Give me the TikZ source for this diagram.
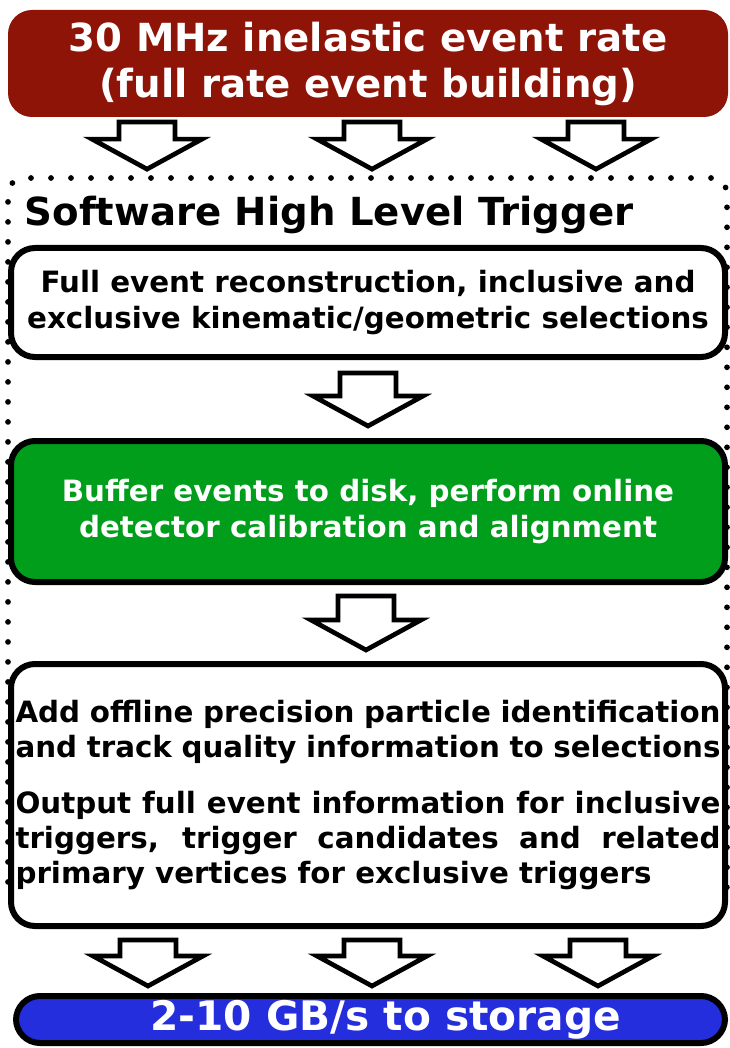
\documentclass[tikz,border=0pt]{standalone}
\usepackage{fontspec}
\setmainfont{DejaVu Sans}
\usepackage{tikz}
\usetikzlibrary{calc}

\definecolor{ratered}{RGB}{143,20,8}
\definecolor{buffergreen}{RGB}{0,158,26}
\definecolor{storeblue}{RGB}{36,46,220}

\newcommand{\blockarrow}[2]{\draw[hollow arrow] let \p1=#1, \p2=#2 in
	(\x1-21pt,\y1) -- (\x1+21pt,\y1) -- (\x1+21pt,\y2+22.5pt) -- (\x1+41.25pt,\y2+22.5pt)
	-- (\x1,\y2) -- (\x1-41.25pt,\y2+22.5pt) -- (\x1-21pt,\y2+22.5pt) -- cycle;}

\begin{document}
\begin{tikzpicture}[x=0.75pt, y=-0.75pt]
		\tikzstyle{box}=[draw=black, fill=white, line width=4.5pt, rounded corners=18pt, inner sep=0pt, align=center, minimum width=535.5pt, font=\fontsize{22}{27}\selectfont\bfseries];
		\tikzstyle{frame}=[draw=black, line width=4.3pt, dash pattern=on 0pt off 15pt, line cap=round, rounded corners=12pt];
		\tikzstyle{hollow arrow}=[draw=black, fill=white, line width=3.5pt];

		\useasboundingbox (0,0) rectangle (730,1048);

		\node[frame, minimum width=539.25pt, minimum height=543pt] (hlt) at (367.5,540) {};
		\node[anchor=base west, font=\fontsize{29}{32}\selectfont\bfseries] (title) at (20,226) {Software High Level Trigger};

		\node[box, draw=none, fill=ratered, text=white, minimum width=540pt, minimum height=80.25pt, font=\fontsize{29}{34.5}\selectfont\bfseries] (rate) at (368,63.5) {30 MHz inelastic event rate\\(full rate event building)};
		\node[box, minimum height=81.75pt] (recon) at (368,302.5) {Full event reconstruction, inclusive and\\exclusive kinematic/geometric selections};
		\node[box, fill=buffergreen, text=white, minimum height=105.75pt] (buffer) at (368,511.5) {Buffer events to disk, perform online\\detector calibration and alignment};
		\node[box, minimum height=196.5pt, text width=528.75pt, align=justify, font=\fontsize{22}{26.25}\selectfont\bfseries] (select) at (368,795) {%
			\makebox[\hsize][s]{Add offline precision particle identification}\\
			\makebox[\hsize][s]{and track quality information to selections}\\[15.75pt]
			\makebox[\hsize][s]{Output full event information for inclusive}\\
			\makebox[\hsize][s]{triggers, trigger candidates and related}\\
			primary vertices for exclusive triggers};
		\node[box, fill=storeblue, text=white, minimum width=531.75pt, minimum height=35.25pt, font=\fontsize{30.5}{34.5}\selectfont\bfseries] (storage) at (370.5,1019.5) {\hspace*{22.5pt}2-10 GB/s to storage};

		\blockarrow{($(rate.south)+(-221,2)$)}{($(hlt.north)+(0,-6)$)}
		\blockarrow{($(rate.south)+(4,2)$)}{($(hlt.north)+(0,-6)$)}
		\blockarrow{($(rate.south)+(228,2)$)}{($(hlt.north)+(0,-6)$)}
		\blockarrow{($(recon.south)+(0,13)$)}{($(buffer.north)+(0,-12)$)}
		\blockarrow{($(buffer.south)+(-2,11)$)}{($(select.north)+(0,-11)$)}
		\blockarrow{($(select.south)+(-220,11)$)}{($(storage.north)+(0,-7)$)}
		\blockarrow{($(select.south)+(4,11)$)}{($(storage.north)+(0,-7)$)}
		\blockarrow{($(select.south)+(230,11)$)}{($(storage.north)+(0,-7)$)}
	\end{tikzpicture}
\end{document}
